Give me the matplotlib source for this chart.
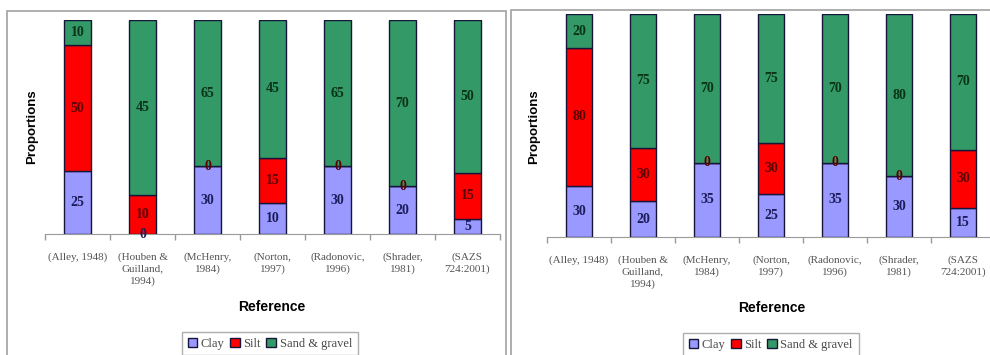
import matplotlib
matplotlib.use("Agg")
import matplotlib.pyplot as plt
from matplotlib.patches import Rectangle, Patch
import numpy as np

# Sources compared in both panels
references = ["(Alley, 1948)", "(Houben &\nGuilland,\n1994)", "(McHenry,\n1984)",
              "(Norton,\n1997)", "(Radonovic,\n1996)", "(Shrader,\n1981)",
              "(SAZS\n724:2001)"]

# Left panel: raw proportions per source
left_clay = [25, 0, 30, 10, 30, 20, 5]
left_silt = [50, 10, 0, 15, 0, 0, 15]
left_sand = [10, 45, 65, 45, 65, 70, 50]

# Right panel: raw proportions per source
right_clay = [30, 20, 35, 25, 35, 30, 15]
right_silt = [80, 30, 0, 30, 0, 0, 30]
right_sand = [20, 75, 70, 75, 70, 80, 70]

series_names = ["Clay", "Silt", "Sand & gravel"]
colors = ["#9999FF", "#FF0000", "#339966"]
label_colors = ["#1c1c5a", "#5a0000", "#0b3319"]

W, H = 990, 355
fig = plt.figure(figsize=(W / 100, H / 100), dpi=100)
fig.patch.set_facecolor("white")

SERIF = ["Liberation Serif", "DejaVu Serif"]
SANS = ["Liberation Sans", "DejaVu Sans"]


def px_axes(x0, x1, ytop, ybot):
    return fig.add_axes([x0 / W, 1 - ybot / H, (x1 - x0) / W, (ybot - ytop) / H])


# Panel frames
for (fx0, fx1, fy) in [(7, 506, 11), (511, 995, 10)]:
    fig.patches.append(Rectangle((fx0 / W, -0.05), (fx1 - fx0) / W, 1.05 - fy / H,
                                 transform=fig.transFigure, fill=False,
                                 edgecolor="#a8a8a8", linewidth=1.3))


def draw_panel(ax, clay, silt, sand, ylab_x, ref_x, ref_y, leg_x, leg_y):
    data = np.array([clay, silt, sand], dtype=float)
    totals = data.sum(axis=0)
    frac = data / totals
    x = np.arange(len(references))
    bottom = np.zeros(len(references))
    for i in range(3):
        cont = ax.bar(x, frac[i], width=0.42, bottom=bottom, color=colors[i],
                      edgecolor="#15153a", linewidth=1.0, zorder=3)
        ax.bar_label(cont, labels=[f"{int(v)}" for v in data[i]], label_type="center",
                     fontsize=10, fontweight="bold", family=SERIF,
                     color=label_colors[i], zorder=5)
        bottom += frac[i]
    ax.set_xlim(-0.5, len(references) - 0.5)
    ax.set_ylim(0, 1)
    for s in ["top", "right", "left"]:
        ax.spines[s].set_visible(False)
    ax.spines["bottom"].set_color("#9a9a9a")
    ax.set_yticks([])
    ax.set_xticks(x)
    ax.set_xticklabels(references, family=SERIF, fontsize=8, color="#555555",
                       linespacing=1.4, va="top")
    ax.tick_params(axis="x", which="major", length=0, pad=13)
    ax.set_xticks(np.arange(-0.5, len(references)), minor=True)
    ax.tick_params(axis="x", which="minor", length=4, color="#9a9a9a", width=1)
    ax.set_facecolor("none")

    fig.text(ylab_x / W, 1 - 127 / H, "Proportions", rotation=90, ha="center",
             va="center", family=SANS, fontsize=9.5, fontweight="bold")
    fig.text(ref_x / W, 1 - ref_y / H, "Reference", ha="center", va="center",
             family=SANS, fontsize=10, fontweight="bold")
    handles = [Patch(facecolor=c, edgecolor="#15153a", linewidth=1.0) for c in colors]
    leg = fig.legend(handles, series_names, loc="upper left",
                     bbox_to_anchor=(leg_x / W, 1 - leg_y / H), ncol=3,
                     frameon=True, fancybox=False, handlelength=0.75,
                     handleheight=0.75, handletextpad=0.3, columnspacing=0.45,
                     borderpad=0.45, borderaxespad=0,
                     prop={"family": SERIF, "size": 9})
    leg.get_frame().set_edgecolor("#9a9a9a")
    leg.get_frame().set_linewidth(1.0)
    for t in leg.get_texts():
        t.set_color("#4a4a4a")


ax_left = px_axes(45, 500, 20, 234)
draw_panel(ax_left, left_clay, left_silt, left_sand,
           ylab_x=32, ref_x=272, ref_y=307, leg_x=182, leg_y=332)

ax_right = px_axes(547, 995, 14, 237)
draw_panel(ax_right, right_clay, right_silt, right_sand,
           ylab_x=534, ref_x=772, ref_y=308, leg_x=683, leg_y=333)

fig.savefig("out.png", dpi=100, facecolor="white")
